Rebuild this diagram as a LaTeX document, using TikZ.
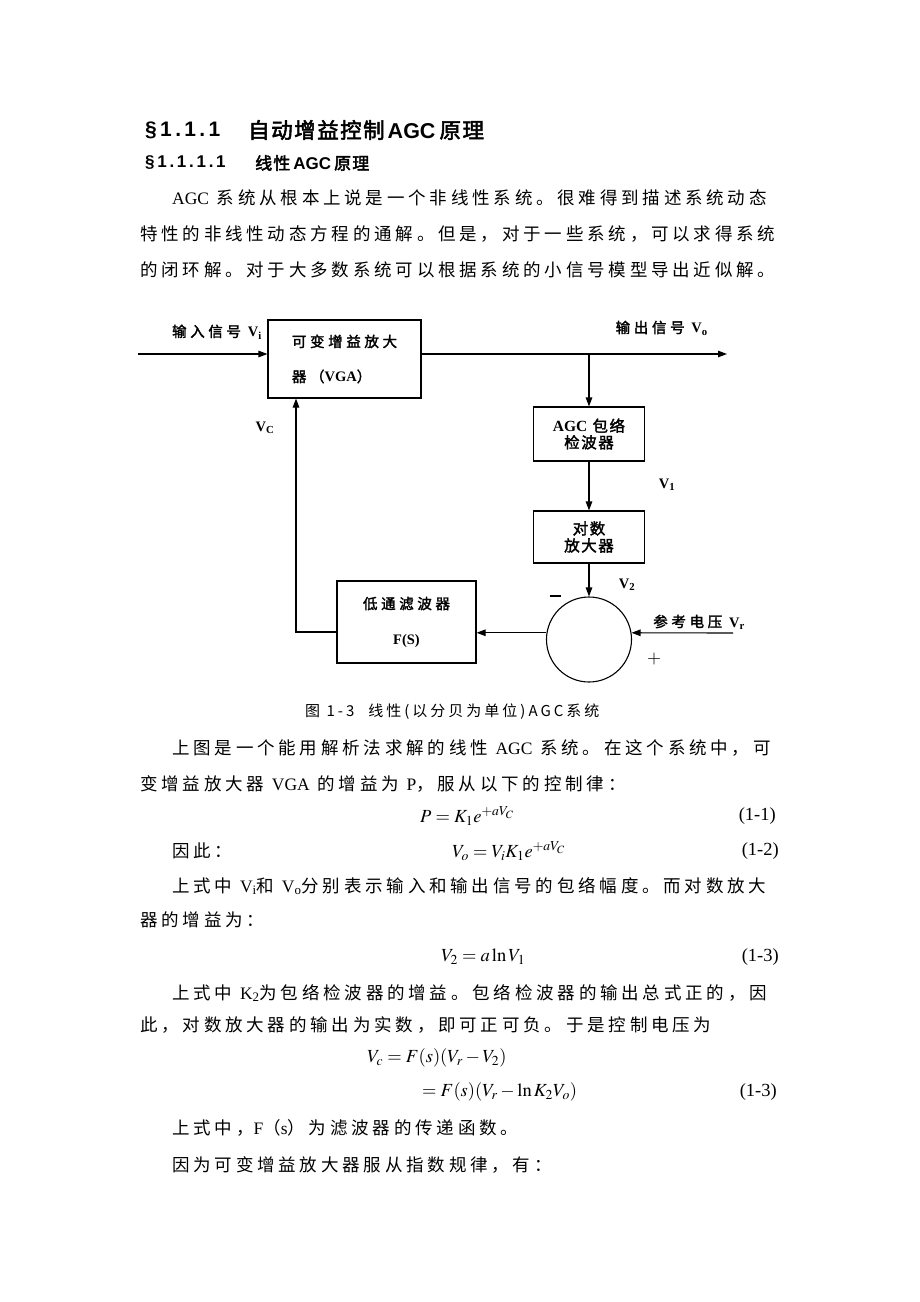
\documentclass[tikz,border=0pt]{standalone}
\usepackage{mathptmx}
\usepackage{fontspec}
\setmainfont{Liberation Serif}
\newfontfamily\cjkbody[LetterSpace=21.7]{Noto Sans CJK SC}
\newfontfamily\cjkcap[LetterSpace=20]{Noto Sans CJK SC}
\newfontfamily\cjkhead[FakeBold=2.5,LetterSpace=7]{Noto Sans CJK SC}
\newfontfamily\cjklabel[FakeBold=2,LetterSpace=25]{Noto Sans CJK SC}
\newfontfamily\cjkdense[FakeBold=2,LetterSpace=10]{Noto Sans CJK SC}
\newfontfamily\headnum[LetterSpace=16]{Liberation Sans}
\newfontfamily\headsans{Liberation Sans}
\usetikzlibrary{positioning,arrows.meta}

\begin{document}
\begin{tikzpicture}[x=1pt,y=-1pt,
	>={Triangle[length=9pt,width=6.5pt]},
	every node/.style={inner sep=0pt},
	bodytext/.style={anchor=west,font=\fontsize{17.5}{21}\selectfont\cjkbody},
	eqn/.style={anchor=west,font=\fontsize{18.5}{22}\selectfont},
	lab/.style={font=\fontsize{14.5}{17}\selectfont\cjklabel},
	block/.style={draw,line width=1.1pt,align=center},
	wire/.style={line width=1.1pt}]
	\newcommand{\lat}[1]{{\rmfamily #1}}%
	\newcommand{\volt}[1]{{\rmfamily\bfseries V\textsubscript{#1}}}%
	%Page
	\fill[white] (0,0) rectangle (920,1302);
	\useasboundingbox (0,0) rectangle (920,1302);
	%Headings
	\node[anchor=west,font=\fontsize{21}{24}\selectfont\headnum\bfseries] (secnum) at (145,130) {§1.1.1};
	\node[anchor=west,font=\fontsize{21.5}{24}\selectfont\cjkhead] (sectitle) at (248,130) {自动增益控制\hspace{3pt}{\headsans\bfseries AGC}\hspace{4pt}原理};
	\node[anchor=west,font=\fontsize{17}{20}\selectfont\headnum\bfseries] (subnum) at (145,163) {§1.1.1.1};
	\node[anchor=west,font=\fontsize{17}{20}\selectfont\cjkhead] (subtitle) at (255,163) {线性\hspace{3pt}{\headsans\bfseries AGC}\hspace{3pt}原理};
	%First paragraph
	\node[bodytext] (parA1) at (172,198) {\lat{AGC} 系统从根本上说是一个非线性系统。很难得到描述系统动态};
	\node[bodytext] (parA2) at (140,234) {特性的非线性动态方程的通解。但是，对于一些系统，可以求得系统};
	\node[bodytext] (parA3) at (140,270) {的闭环解。对于大多数系统可以根据系统的小信号模型导出近似解。};
	%Blocks of the loop
	\node[block,minimum width=153,minimum height=78,align=left,font=\fontsize{14.5}{35}\selectfont\cjklabel] (vga) at (344.5,359) {可变增益放大\\器（{\rmfamily\bfseries VGA}）};
	\node[block,minimum width=111,minimum height=54,font=\fontsize{15.5}{16.5}\selectfont\cjkdense] (agc) at (589,434) {{\rmfamily\bfseries AGC} 包络\\检波器};
	\node[block,minimum width=111,minimum height=52,font=\fontsize{15.5}{17}\selectfont\cjkdense] (log) at (589,537) {对数\\放大器};
	\node[draw,circle,line width=1.1pt,minimum size=85] (sum) at (589,639.5) {};
	\node[block,minimum width=139,minimum height=82,font=\fontsize{14.5}{35}\selectfont\cjklabel] (lpf) at (406.5,622) {低通滤波器\\{\rmfamily\bfseries F(S)}};
	%Signal labels
	\node[lab,anchor=east] (vinlab) at (262,332) {输入信号 \volt{i}};
	\node[lab,anchor=east] (voutlab) at (708,328) {输出信号 \volt{o}};
	\node[lab] (vclab) at (265,428) {\volt{C}};
	\node[lab] (vonelab) at (667,485) {\volt{1}};
	\node[lab] (vtwolab) at (627,585) {\volt{2}};
	\node[lab,anchor=east] (vreflab) at (745,622) {参考电压 \volt{r}};
	\node[font=\fontsize{18}{20}\selectfont\bfseries] (minus) at (555,596) {\rule{11pt}{1.5pt}};
	\node[font=\fontsize{18}{20}\selectfont] (plus) at (654,659) {$+$};
	%Connectors
	\coordinate (vin) at (138,354);
	\coordinate (vout) at (727,354);
	\coordinate (tap) at (589,354);
	\coordinate (vref) at (733,633);
	\coordinate (fbcorner) at (296,632);
	\draw[wire,->] (vin) -- (vin -| vga.west);
	\draw[wire,->] (vin -| vga.east) -- (vout);
	\draw[wire,->] (tap) -- (agc.north);
	\draw[wire,->] (agc.south) -- (log.north);
	\draw[wire,->] (log.south) -- (sum.north);
	\draw[wire,->] (vref) -- (sum.9);
	\draw[wire,->] (sum.171) -- (sum.171 -| lpf.east);
	\draw[wire,->] (fbcorner -| lpf.west) -- (fbcorner) -- (fbcorner |- vga.south);
	%Caption
	\node[anchor=west,font=\fontsize{15}{18}\selectfont\cjkcap] (caption) at (305,712) {图 1-3\hspace{14pt}线性(以分贝为单位)AGC系统};
	%Second paragraph and equations
	\node[bodytext] (parB1) at (172,748) {上图是一个能用解析法求解的线性 \lat{AGC} 系统。在这个系统中，可};
	\node[bodytext] (parB2) at (140,784) {变增益放大器 \lat{VGA} 的增益为 \lat{P}，服从以下的控制律：};
	\node[eqn] (eqP) at (420,816) {$P = K_1 e^{+aV_C}$};
	\node[eqn,anchor=east] (eqPnum) at (776,816) {(1-1)};
	\node[bodytext] (therefore) at (172,851) {因此：};
	\node[eqn] (eqVo) at (452,851) {$V_o = V_i K_1 e^{+aV_C}$};
	\node[eqn,anchor=east] (eqVonum) at (779,851) {(1-2)};
	\node[bodytext] (parC1) at (172,886) {上式中 \lat{V\textsubscript{i}}和 \lat{V\textsubscript{o}}分别表示输入和输出信号的包络幅度。而对数放大};
	\node[bodytext] (parC2) at (140,920) {器的增益为：};
	\node[eqn] (eqVtwo) at (441,957) {$V_2 = a\ln V_1$};
	\node[eqn,anchor=east] (eqVtwonum) at (779,957) {(1-3)};
	\node[bodytext] (parD1) at (172,993) {上式中 \lat{K\textsubscript{2}}为包络检波器的增益。包络检波器的输出总式正的，因};
	\node[bodytext] (parD2) at (140,1025) {此，对数放大器的输出为实数，即可正可负。于是控制电压为};
	\node[eqn] (eqVc) at (367,1058) {$V_c = F(s)(V_r - V_2)$};
	\node[eqn] (eqVcb) at (422,1092) {$= F(s)(V_r - \ln K_2 V_o)$};
	\node[eqn,anchor=east] (eqVcnum) at (777,1092) {(1-3)};
	\node[bodytext] (parE1) at (172,1128) {上式中，\lat{F}（\lat{s}）为滤波器的传递函数。};
	\node[bodytext] (parF1) at (172,1165) {因为可变增益放大器服从指数规律，有：};
\end{tikzpicture}
\end{document}
